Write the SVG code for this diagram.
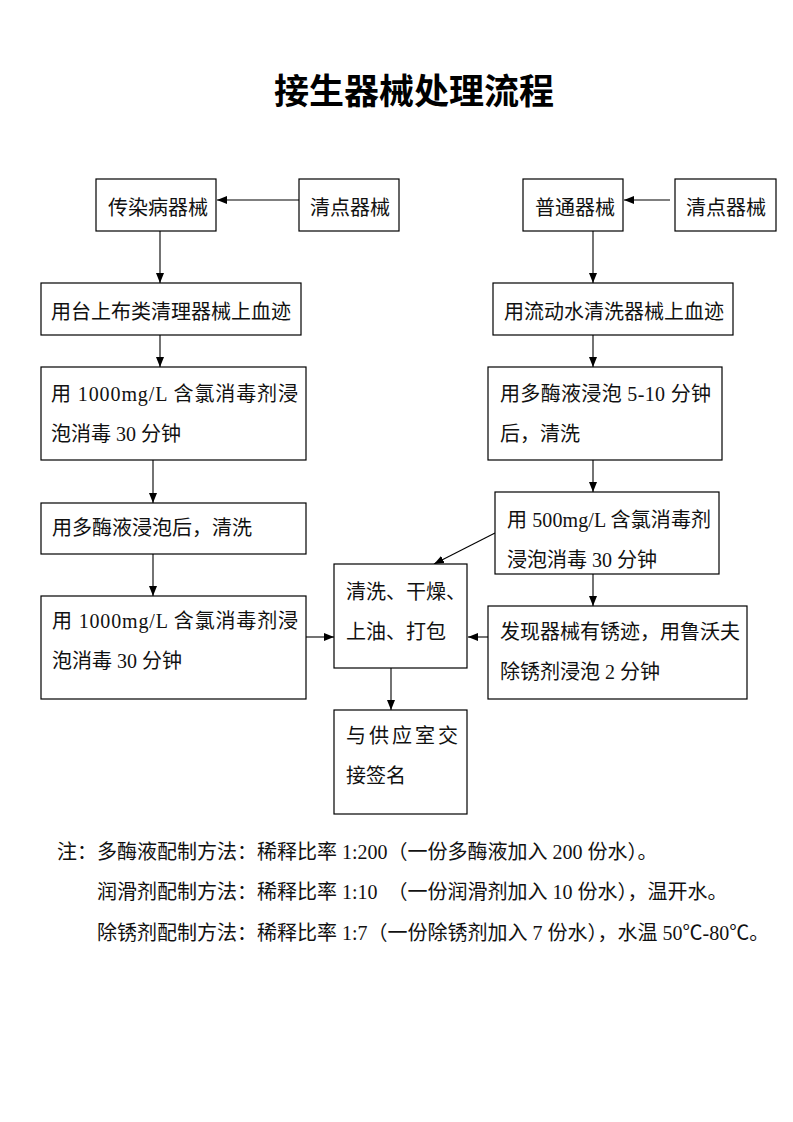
<svg xmlns="http://www.w3.org/2000/svg" width="793" height="1122" viewBox="0 0 793 1122">
<style>
.box{fill:#fff;stroke:#000;stroke-width:1.2}
.t{font-family:"Liberation Serif","Noto Sans CJK SC",serif;font-size:20px;fill:#111}
.title{font-family:"Liberation Serif","Noto Sans CJK SC",serif;font-size:35px;font-weight:bold;fill:#000}
.c{stroke:#000;stroke-width:1.1;fill:none;marker-end:url(#ah)}
</style>
<defs>
<marker id="ah" markerUnits="userSpaceOnUse" markerWidth="10" markerHeight="10" viewBox="0 0 10 10" refX="10" refY="5" orient="auto">
<path d="M0,1 L10,5 L0,9 Z" fill="#000"/>
</marker>
</defs>
<rect width="793" height="1122" fill="#fff"/>
<text class="title" x="414" y="104" text-anchor="middle">接生器械处理流程</text>

<g id="connectors">
<line class="c" x1="299" y1="200" x2="217" y2="200"/>
<line class="c" x1="160" y1="231" x2="160" y2="283"/>
<line class="c" x1="160" y1="335" x2="160" y2="367"/>
<line class="c" x1="153" y1="460" x2="153" y2="503"/>
<line class="c" x1="153" y1="554" x2="153" y2="596"/>
<line class="c" x1="306" y1="637" x2="334" y2="637"/>
<line class="c" x1="391" y1="668" x2="391" y2="710"/>
<line class="c" x1="670" y1="200" x2="624" y2="200"/>
<line class="c" x1="593" y1="231" x2="593" y2="283"/>
<line class="c" x1="593" y1="335" x2="593" y2="367"/>
<line class="c" x1="593" y1="460" x2="593" y2="492"/>
<line class="c" x1="593" y1="574" x2="593" y2="606"/>
<line class="c" x1="488" y1="637" x2="468" y2="637"/>
<line class="c" x1="495" y1="533" x2="434" y2="564"/>
</g>

<g id="n1"><rect class="box" x="96" y="179" width="120" height="52"/><text class="t" x="108" y="215">传染病器械</text></g>
<g id="n2"><rect class="box" x="299" y="179" width="100" height="52"/><text class="t" x="310" y="215">清点器械</text></g>
<g id="n3"><rect class="box" x="41" y="283" width="260" height="52"/><text class="t" x="51" y="319">用台上布类清理器械上血迹</text></g>
<g id="n4"><rect class="box" x="41" y="367" width="265" height="93"/><text class="t" x="51" y="401" textLength="247" lengthAdjust="spacing">用 1000mg/L 含氯消毒剂浸</text><text class="t" x="51" y="441">泡消毒 30 分钟</text></g>
<g id="n5"><rect class="box" x="41" y="503" width="265" height="51"/><text class="t" x="52" y="535">用多酶液浸泡后，清洗</text></g>
<g id="n6"><rect class="box" x="41" y="596" width="265" height="103"/><text class="t" x="52" y="628" textLength="246" lengthAdjust="spacing">用 1000mg/L 含氯消毒剂浸</text><text class="t" x="52" y="668">泡消毒 30 分钟</text></g>
<g id="n7"><rect class="box" x="334" y="564" width="133" height="104"/><text class="t" x="346" y="599">清洗、干燥、</text><text class="t" x="346" y="639">上油、打包</text></g>
<g id="n8"><rect class="box" x="334" y="710" width="133" height="104"/><text class="t" x="346" y="743" textLength="112" lengthAdjust="spacing">与供应室交</text><text class="t" x="346" y="783">接签名</text></g>
<g id="n9"><rect class="box" x="523" y="179" width="100" height="52"/><text class="t" x="535" y="215">普通器械</text></g>
<g id="n10"><rect class="box" x="675" y="179" width="101" height="52"/><text class="t" x="686" y="215">清点器械</text></g>
<g id="n11"><rect class="box" x="493" y="283" width="240" height="52"/><text class="t" x="504" y="319">用流动水清洗器械上血迹</text></g>
<g id="n12"><rect class="box" x="488" y="367" width="234" height="93"/><text class="t" x="500" y="401" textLength="211" lengthAdjust="spacing">用多酶液浸泡 5-10 分钟</text><text class="t" x="500" y="441">后，清洗</text></g>
<g id="n13"><rect class="box" x="495" y="492" width="224" height="82"/><text class="t" x="507" y="527" textLength="204" lengthAdjust="spacing">用 500mg/L 含氯消毒剂</text><text class="t" x="507" y="567">浸泡消毒 30 分钟</text></g>
<g id="n14"><rect class="box" x="488" y="606" width="259" height="93"/><text class="t" x="500" y="639">发现器械有锈迹，用鲁沃夫</text><text class="t" x="500" y="679">除锈剂浸泡 2 分钟</text></g>

<g id="notes">
<text class="t" x="57" y="859">注：多酶液配制方法：稀释比率 1:200（一份多酶液加入 200 份水）。</text>
<text class="t" x="97" y="899" xml:space="preserve">润滑剂配制方法：稀释比率 1:10  （一份润滑剂加入 10 份水），温开水。</text>
<text class="t" x="97" y="940">除锈剂配制方法：稀释比率 1:7（一份除锈剂加入 7 份水），水温 50℃-80℃。</text>
</g>
</svg>
